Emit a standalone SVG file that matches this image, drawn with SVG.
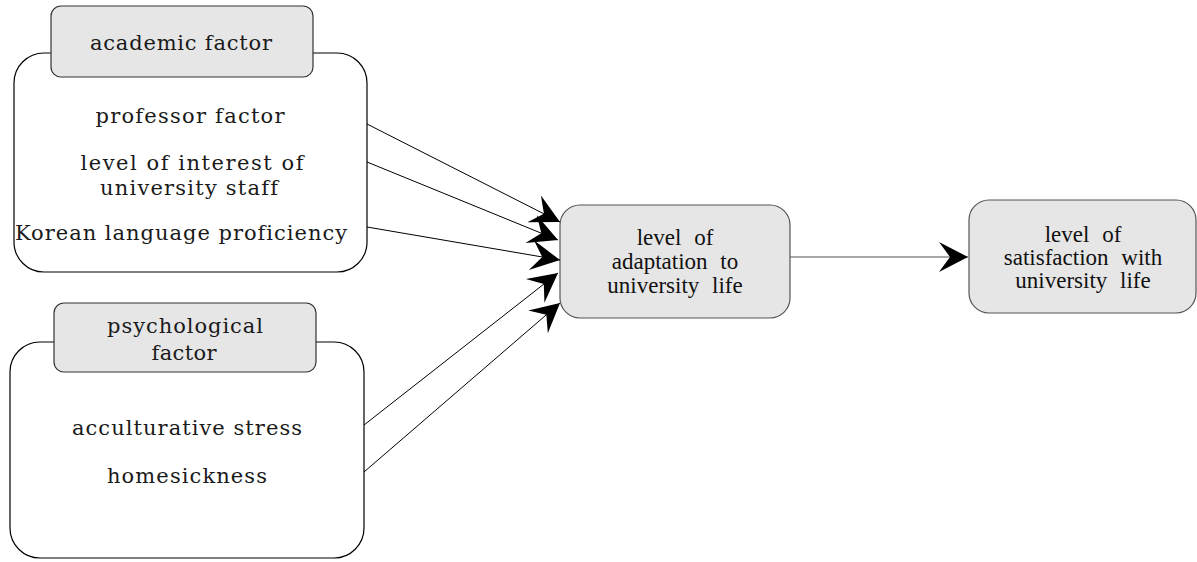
<svg xmlns="http://www.w3.org/2000/svg" width="1197" height="562" viewBox="0 0 1197 562">
<style>
.outer{fill:#fff;stroke:#000;stroke-width:1.2}
.tab{fill:#e6e6e6;stroke:#333;stroke-width:1.2}
.box{fill:#e6e6e6;stroke:#555;stroke-width:1.2}
.t{font-family:"DejaVu Serif","Liberation Serif",serif;font-size:21px;fill:#1a1a1a;text-anchor:middle;font-variant-ligatures:none}
.m{font-family:"Liberation Serif","Times New Roman",serif;font-size:23px;fill:#111;text-anchor:middle;word-spacing:7px}
.c{fill:none;stroke:#000;stroke-width:1}
.cg{fill:none;stroke:#555;stroke-width:1.2}
</style>
<defs>
<marker id="ah" markerUnits="userSpaceOnUse" markerWidth="32" markerHeight="32" viewBox="-30 -16 32 32" refX="0" refY="0" orient="auto">
<path d="M0,0 L-29,-15 L-18,0 L-29,15 Z" fill="#000"/>
</marker>
</defs>
<g id="academic">
<rect class="outer" x="14" y="53" width="353" height="219" rx="30" ry="30"/>
<rect class="tab" x="51" y="6" width="262" height="71" rx="10" ry="10"/>
<text class="t" x="181" y="50" textLength="182" lengthAdjust="spacing">academic factor</text>
<text class="t" x="190" y="123" textLength="189" lengthAdjust="spacing">professor factor</text>
<text class="t" x="192" y="170" textLength="223" lengthAdjust="spacing">level of interest of</text>
<text class="t" x="189" y="195" textLength="178" lengthAdjust="spacing">university staff</text>
<text class="t" x="181" y="240" textLength="332" lengthAdjust="spacing">Korean language proficiency</text>
</g>
<g id="psychological">
<rect class="outer" x="10" y="342" width="354" height="216" rx="30" ry="30"/>
<rect class="tab" x="54" y="303" width="262" height="69" rx="10" ry="10"/>
<text class="t" x="185" y="333" textLength="156" lengthAdjust="spacing">psychological</text>
<text class="t" x="184" y="360" textLength="65" lengthAdjust="spacing">factor</text>
<text class="t" x="187" y="435" textLength="230" lengthAdjust="spacing">acculturative stress</text>
<text class="t" x="187" y="483" textLength="160" lengthAdjust="spacing">homesickness</text>
</g>
<g id="adaptation">
<rect class="box" x="560" y="205" width="230" height="113" rx="20" ry="20"/>
<text class="m" x="675" y="245">level of</text>
<text class="m" x="675" y="269">adaptation to</text>
<text class="m" x="675" y="293">university life</text>
</g>
<g id="satisfaction">
<rect class="box" x="969" y="200" width="227" height="113" rx="20" ry="20"/>
<text class="m" x="1083" y="242">level of</text>
<text class="m" x="1083" y="265">satisfaction with</text>
<text class="m" x="1083" y="288">university life</text>
</g>
<g id="connectors">
<line class="c" x1="367" y1="124" x2="560" y2="222" marker-end="url(#ah)"/>
<line class="c" x1="367" y1="162" x2="558" y2="240" marker-end="url(#ah)"/>
<line class="c" x1="367" y1="227" x2="560" y2="260" marker-end="url(#ah)"/>
<line class="c" x1="364" y1="425" x2="558" y2="273" marker-end="url(#ah)"/>
<line class="c" x1="364" y1="472" x2="560" y2="303" marker-end="url(#ah)"/>
<line class="cg" x1="790" y1="257" x2="968" y2="257" marker-end="url(#ah)"/>
</g>
</svg>
